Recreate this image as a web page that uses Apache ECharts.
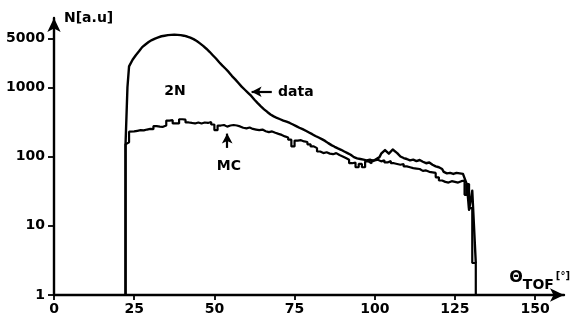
<!DOCTYPE html>
<html>
<head>
<meta charset="utf-8">
<script src="https://cdn.jsdelivr.net/npm/echarts@6/dist/echarts.min.js"></script>
<style>
html,body{margin:0;padding:0;background:#fff;}
#chart{width:571px;height:317px;}
</style>
</head>
<body>
<div id="chart"></div>
<script>
// "data" curve: points along the measured distribution (theta_TOF in degrees, counts)
const dataTheta = [22.3, 22.3, 22.9, 22.9, 23.4, 23.4, 24,
  24.5, 25.5, 26.5, 27.5, 28.5, 29.5, 30.5, 31.5, 32.5, 33.5, 34.5, 35.5, 36.5, 37.5, 38.5, 39.5,
  40.5, 41.5, 42.5, 43.5, 44.5, 45.5, 46.5, 47.5, 48.5, 49.5, 50.5, 51.5, 52.5, 53.5, 54.5, 55.5,
  56.5, 57.5, 58.5, 59.5, 60.5, 61.5, 62.5, 63.5, 64.5, 65.5, 66.5, 67.5, 68.5, 69.5, 70.5, 71.5,
  72.5, 73.5, 74.5, 75.5, 76.5, 77.5, 78.5, 79.5, 80.5, 81.5, 82.5, 83.5, 84.5, 85.5, 86.5, 87.5,
  88.5, 89.5, 90.5, 91.5, 92.5, 93.5, 94.5, 95.5, 96.5, 97.5, 98.5, 99.5, 100.5, 101.5, 102, 102.6,
  103.2, 103.8, 104.4, 105, 105.6, 106.2, 107, 108, 109, 110, 111, 112, 113, 114, 115, 116, 117,
  118, 119, 120, 121, 121.5, 122.5, 123.5, 124.5, 125.5, 126.5, 127.5, 128, 128, 128.7, 128.7,
  129.4, 129.4, 130.4, 130.4, 131.5, 131.5];
const dataCounts = [1, 150, 150, 1000, 1000, 2000, 2000,
  2500, 2900, 3300, 3800, 4150, 4500, 4800, 5050, 5250, 5450, 5550, 5650, 5700, 5750, 5700, 5650,
  5550, 5400, 5200, 4950, 4650, 4300, 3950, 3600, 3250, 2900, 2600, 2300, 2050, 1850, 1650, 1450,
  1300, 1150, 1020, 920, 830, 750, 660, 590, 530, 480, 440, 405, 380, 360, 345, 330,
  318, 305, 290, 275, 260, 248, 235, 222, 210, 198, 188, 178, 168, 156, 146, 138,
  131, 125, 118, 112, 106, 98, 94, 92, 90, 88, 90, 86, 92, 98, 110, 112,
  124, 124, 110, 112, 126, 124, 112, 100, 95, 92, 88, 90, 86, 89, 84, 80, 82, 76,
  72, 70, 66, 60, 57, 58, 56, 58, 57, 56, 55, 55, 40, 40, 17,
  17, 32, 32, 2.9, 2.9, 1];

// Monte Carlo histogram: bin edges and counts per bin
const mcEdges = [22.3, 22.9, 23.4, 24, 25, 26, 27, 28, 29, 30, 31, 32, 33, 34, 35, 36, 37, 38, 39, 40,
  41, 42, 43, 44, 45, 46, 47, 48, 49, 50, 51, 52, 53, 54, 55, 56, 57, 58, 59, 60,
  61, 62, 63, 64, 65, 66, 67, 68, 69, 70, 71, 72, 73, 74, 75, 76, 77, 78, 79, 80,
  81, 82, 83, 84, 85, 86, 87, 88, 89, 90, 91, 92, 93, 94, 95, 96, 97, 98, 99, 100,
  101, 102, 103, 104, 105, 106, 107, 108, 109, 110, 111, 112, 113, 114, 115, 116, 117, 118, 119, 120,
  121, 122, 123, 124, 125, 126, 127, 128, 128.7, 129.4, 130.4, 131.5];
const mcCounts = [150, 160, 228, 230, 235, 240, 238, 245, 250, 248, 275, 270, 268, 280, 330, 335, 300, 300, 345, 340,
  310, 305, 300, 310, 300, 310, 305, 315, 290, 240, 280, 285, 270, 280, 285, 280, 272, 260, 255, 262,
  250, 245, 240, 245, 232, 225, 230, 220, 212, 205, 195, 188, 175, 140, 170, 172, 165, 162, 150, 140,
  132, 118, 112, 115, 110, 108, 112, 105, 100, 95, 90, 80, 82, 70, 78, 70, 85, 80, 88, 90,
  85, 88, 82, 86, 80, 78, 76, 78, 72, 70, 68, 67, 66, 62, 63, 60, 59, 58, 50, 45,
  43, 42, 44, 43, 42, 44, 45, 28, 40, 18, 2.9];

const xTickValues = [0, 25, 50, 75, 100, 125, 150];
const yTickValues = [1, 10, 100, 1000, 5000];

function histo(edges, vals) {
  const out = [[edges[0], 1]];
  for (let i = 0; i < vals.length; i++) out.push([edges[i], vals[i]]);
  out.push([edges[edges.length - 1], 1]);
  return out;
}
function pairs(xs, ys) { return xs.map((x, i) => [x, ys[i]]); }

const FONT = 'DejaVu Sans';
const txt = {color: '#000', fontFamily: FONT, fontWeight: 'bold', fontSize: 14};

const chart = echarts.init(document.getElementById('chart'), null, {renderer: 'canvas'});
chart.setOption({
  animation: false,
  backgroundColor: '#fff',
  grid: {left: 54, right: 7, top: 18, bottom: 22, containLabel: false, outerBoundsMode: 'none'},
  xAxis: {
    type: 'value', min: 0, max: 159,
    axisLine: {show: true, lineStyle: {color: '#000', width: 2.4}, symbol: ['none', 'arrow'], symbolSize: [10, 14]},
    axisTick: {show: true, customValues: xTickValues, length: 5, lineStyle: {color: '#000', width: 1.8}},
    axisLabel: Object.assign({customValues: xTickValues, margin: 7, formatter: v => String(Math.round(v))}, txt),
    splitLine: {show: false},
    name: '{t|Θ}{s|TOF}{u|[°]}',
    nameLocation: 'end',
    nameGap: 6,
    nameTextStyle: {
      align: 'right', verticalAlign: 'bottom', padding: [0, 0, 3, 0],
      rich: {
        t: {fontFamily: FONT, fontWeight: 'bold', fontSize: 16, color: '#000', lineHeight: 24, verticalAlign: 'top', padding: [2, 0, 0, 0]},
        s: {fontFamily: FONT, fontWeight: 'bold', fontSize: 14, color: '#000', lineHeight: 24, verticalAlign: 'bottom'},
        u: {fontFamily: FONT, fontWeight: 'bold', fontSize: 10, color: '#000', lineHeight: 24, verticalAlign: 'top', padding: [3, 0, 0, 2]}
      }
    }
  },
  yAxis: {
    type: 'log', logBase: 10, min: 1, max: 10000,
    axisLine: {show: true, lineStyle: {color: '#000', width: 2.4}, symbol: ['none', 'arrow'], symbolSize: [10, 14]},
    axisTick: {show: true, customValues: yTickValues, length: 6, lineStyle: {color: '#000', width: 1.8}},
    axisLabel: Object.assign({customValues: yTickValues, margin: 9, formatter: v => String(Math.round(v))}, txt),
    minorTick: {show: false},
    splitLine: {show: false},
    name: 'N[a.u]',
    nameLocation: 'end',
    nameGap: 0,
    nameTextStyle: Object.assign({align: 'left', verticalAlign: 'middle', padding: [0, 0, 0, 10]}, txt)
  },
  series: [
    {
      name: 'data', type: 'line', showSymbol: false, silent: true,
      data: pairs(dataTheta, dataCounts),
      lineStyle: {color: '#000', width: 2.4, join: 'round'},
      markLine: {
        silent: true, symbol: ['none', 'arrow'], symbolSize: [8, 10],
        lineStyle: {color: '#000', width: 2.2, type: 'solid'}, label: {show: false},
        data: [
          [{coord: [67.9, 860]}, {coord: [61.6, 860]}],
          [{coord: [54, 133]}, {coord: [54, 214]}]
        ]
      },
      markPoint: {
        silent: true, symbol: 'circle', symbolSize: 0,
        label: Object.assign({show: true, position: 'inside', formatter: '{b}'}, txt),
        data: [
          {name: '2N', coord: [37.7, 880]},
          {name: 'data', coord: [75.4, 850]},
          {name: 'MC', coord: [54.5, 73]}
        ]
      }
    },
    {
      name: 'MC', type: 'line', step: 'end', showSymbol: false, silent: true,
      data: histo(mcEdges, mcCounts),
      lineStyle: {color: '#000', width: 2.2}
    }
  ]
});
</script>
</body>
</html>
